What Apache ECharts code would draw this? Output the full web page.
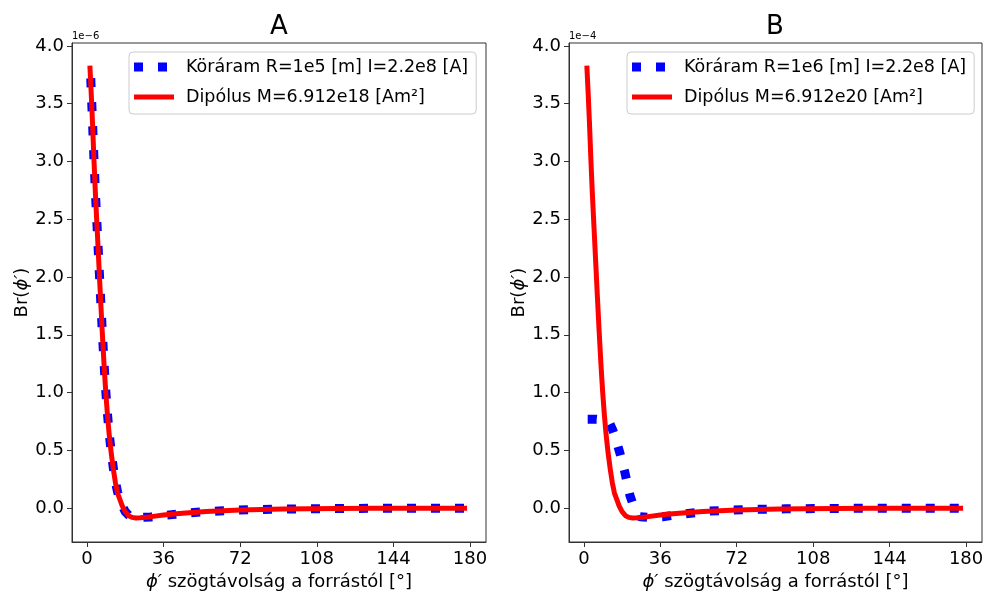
<!DOCTYPE html>
<html>
<head>
<meta charset="utf-8">
<script src="https://cdn.jsdelivr.net/npm/echarts@6/dist/echarts.min.js"></script>
<style>
html,body{margin:0;padding:0;background:#fff;}
#main{width:987px;height:592px;}
</style>
</head>
<body>
<div id="main"></div>
<script>
// ---- data ----
const xTicks = [0, 36, 72, 108, 144, 180];
const yTicks = [0, 0.5, 1.0, 1.5, 2.0, 2.5, 3.0, 3.5, 4.0];

const panelTitles = ['A', 'B'];
const offsetTexts = ['1e\u22126', '1e\u22124'];
const loopNames = ['Köráram R=1e5 [m] I=2.2e8 [A]', 'Köráram R=1e6 [m] I=2.2e8 [A]'];
const dipoleNames = ['Dipólus M=6.912e18 [Am²]', 'Dipólus M=6.912e20 [Am²]'];

// Panel A – loop current (blue dotted), units 1e-6
const loopAX = [1.8, 2.6, 3.3, 4.0, 4.8, 5.6, 6.4, 7.2, 8.0, 8.8, 9.6, 10.4, 11.4, 12.4, 13.4, 14.4, 15.4, 16.6, 18, 19.6, 21.2, 23, 26, 30, 34, 40, 46, 54, 62, 70, 80, 92, 104, 118, 134, 150, 166, 178.6];
const loopAY = [3.72, 3.36, 3.03, 2.73, 2.43, 2.13, 1.83, 1.54, 1.27, 1.03, 0.83, 0.66, 0.49, 0.35, 0.23, 0.14, 0.08, 0.02, -0.03, -0.06, -0.075, -0.08, -0.08, -0.076, -0.068, -0.056, -0.045, -0.033, -0.024, -0.018, -0.012, -0.008, -0.005, -0.003, -0.0015, -0.0007, -0.0002, 0];

// Panel A – dipole (red), units 1e-6
const dipoleAX = [1.4, 2.0, 2.6, 3.3, 4.0, 4.8, 5.6, 6.4, 7.2, 8.0, 8.8, 9.6, 10.4, 11.4, 12.4, 13.4, 14.4, 15.4, 16.6, 18.0, 19.6, 21.2, 23.0, 25.0, 28, 32, 36, 42, 48, 56, 64, 72, 82, 92, 104, 118, 134, 150, 166, 178.6];
const dipoleAY = [3.83, 3.60, 3.35, 3.02, 2.72, 2.42, 2.12, 1.82, 1.53, 1.26, 1.02, 0.82, 0.65, 0.48, 0.34, 0.22, 0.13, 0.08, 0.02, -0.03, -0.065, -0.08, -0.085, -0.084, -0.078, -0.069, -0.06, -0.049, -0.04, -0.03, -0.022, -0.017, -0.012, -0.008, -0.005, -0.003, -0.0015, -0.0007, -0.0002, 0];

// Panel B – loop current (blue dotted), units 1e-4
const loopBX = [1.8, 6, 10, 12, 13.5, 15, 16.6, 18, 19.3, 20.5, 21.7, 23, 24.5, 26.5, 30, 37, 48, 59, 70, 81, 95, 110, 125, 140, 160, 178.6];
const loopBY = [0.77, 0.77, 0.76, 0.74, 0.68, 0.6, 0.50, 0.41, 0.31, 0.21, 0.11, 0.04, -0.02, -0.075, -0.08, -0.075, -0.048, -0.026, -0.016, -0.01, -0.006, -0.004, -0.002, -0.001, -0.0004, 0];

// Panel B – dipole (red), units 1e-4
const dipoleBX = [1.4, 2.0, 2.6, 3.3, 4.0, 4.8, 5.6, 6.4, 7.2, 8.0, 8.8, 9.6, 10.4, 11.4, 12.4, 13.4, 14.4, 15.4, 16.6, 18.0, 19.6, 21.2, 23.0, 25.0, 28, 32, 36, 42, 48, 56, 64, 72, 82, 92, 104, 118, 134, 150, 166, 178.6];
const dipoleBY = [3.83, 3.60, 3.35, 3.02, 2.72, 2.42, 2.12, 1.82, 1.53, 1.26, 1.02, 0.82, 0.65, 0.48, 0.34, 0.22, 0.13, 0.08, 0.02, -0.03, -0.065, -0.08, -0.085, -0.084, -0.078, -0.069, -0.06, -0.049, -0.04, -0.03, -0.022, -0.017, -0.012, -0.008, -0.005, -0.003, -0.0015, -0.0007, -0.0002, 0];

// ---- build ----
const zip = (xs, ys) => xs.map((x, i) => [x, ys[i]]);
const FONT = 'DejaVu Sans';
const AX = '#333';
const grids = [
  {left: 72, top: 43, width: 414, height: 499},
  {left: 569, top: 43, width: 413, height: 499}
];

function xAxisFor(i) {
  return {
    type: 'value', gridIndex: i, min: -7, max: 187.5,
    name: '{i|\u03D5\u2032} szögtávolság a forrástól [°]',
    nameLocation: 'middle', nameGap: 27,
    nameTextStyle: {fontFamily: FONT, fontSize: 18, color: '#000',
      rich: {i: {fontFamily: FONT, fontSize: 18, fontStyle: 'italic', color: '#000'}}},
    axisLine: {show: true, onZero: false, lineStyle: {color: AX, width: 1}},
    axisTick: {show: true, length: 5, customValues: xTicks, lineStyle: {color: AX}},
    axisLabel: {customValues: xTicks, fontFamily: FONT, fontSize: 18, color: '#000', margin: 8},
    splitLine: {show: false}
  };
}
function yAxisFor(i) {
  return {
    type: 'value', gridIndex: i, min: -0.293, max: 4.025,
    name: 'Br({i|\u03D5\u2032})',
    nameLocation: 'middle', nameGap: 40, nameRotate: 90,
    nameTextStyle: {fontFamily: FONT, fontSize: 18, color: '#000',
      rich: {i: {fontFamily: FONT, fontSize: 18, fontStyle: 'italic', color: '#000'}}},
    axisLine: {show: true, onZero: false, lineStyle: {color: AX, width: 1}},
    axisTick: {show: true, length: 5, customValues: yTicks, lineStyle: {color: AX}},
    axisLabel: {customValues: yTicks, fontFamily: FONT, fontSize: 18, color: '#000', margin: 8,
      formatter: v => Number(v).toFixed(1)},
    splitLine: {show: false}
  };
}

const BLUE_ICON = 'path://M0,0h9v9h-9zM24,0h9v9h-9zM40,0h0.001v0.001h-0.001z';
const RED_ICON = 'path://M0,0h0.001v0.001h-0.001zM0,2h40v5h-40zM0,9h0.001v0.001h-0.001z';

function legendFor(i, left) {
  return {
    show: true, orient: 'vertical', left: left, top: 52,
    data: [{name: loopNames[i], icon: BLUE_ICON}, {name: dipoleNames[i], icon: RED_ICON}],
    itemWidth: 40, itemHeight: 9, itemGap: 10,
    padding: [5, 8, 7, 5],
    backgroundColor: '#fff', borderColor: '#ccc', borderWidth: 1, borderRadius: 4,
    textStyle: {fontFamily: FONT, fontSize: 17.5, color: '#000', lineHeight: 20, padding: [0, 0, 0, 7]},
    selectedMode: false
  };
}

function lineSeries(name, i, data, color, width, dash, z) {
  return {
    type: 'line', name: name, xAxisIndex: i, yAxisIndex: i, data: data,
    symbol: 'none', smooth: false, animation: false, z: z,
    itemStyle: {color: color},
    lineStyle: {color: color, width: width, type: dash || 'solid', cap: 'butt', join: 'round'}
  };
}

const option = {
  animation: false,
  backgroundColor: '#fff',
  grid: grids.map(g => Object.assign({show: true, borderColor: AX, borderWidth: 1, containLabel: false, outerBoundsMode: 'none'}, g)),
  xAxis: [xAxisFor(0), xAxisFor(1)],
  yAxis: [yAxisFor(0), yAxisFor(1)],
  legend: [legendFor(0, 129), legendFor(1, 627)],
  series: [
    lineSeries(loopNames[0], 0, zip(loopAX, loopAY), '#0000ff', 9, [9, 15], 2),
    lineSeries(dipoleNames[0], 0, zip(dipoleAX, dipoleAY), '#ff0000', 5, null, 3),
    lineSeries(loopNames[1], 1, zip(loopBX, loopBY), '#0000ff', 9, [9, 15], 2),
    lineSeries(dipoleNames[1], 1, zip(dipoleBX, dipoleBY), '#ff0000', 5, null, 3)
  ],
  graphic: [
    {type: 'text', x: 279, y: 27, style: {text: panelTitles[0], font: '26px "DejaVu Sans"', fill: '#000', align: 'center', verticalAlign: 'middle'}},
    {type: 'text', x: 775, y: 27, style: {text: panelTitles[1], font: '26px "DejaVu Sans"', fill: '#000', align: 'center', verticalAlign: 'middle'}},
    {type: 'text', x: 72, y: 36, style: {text: offsetTexts[0], font: '10px "DejaVu Sans"', fill: '#000', align: 'left', verticalAlign: 'middle'}},
    {type: 'text', x: 569, y: 36, style: {text: offsetTexts[1], font: '10px "DejaVu Sans"', fill: '#000', align: 'left', verticalAlign: 'middle'}}
  ]
};

const chart = echarts.init(document.getElementById('main'), null, {renderer: 'canvas'});
chart.setOption(option);
</script>
</body>
</html>
